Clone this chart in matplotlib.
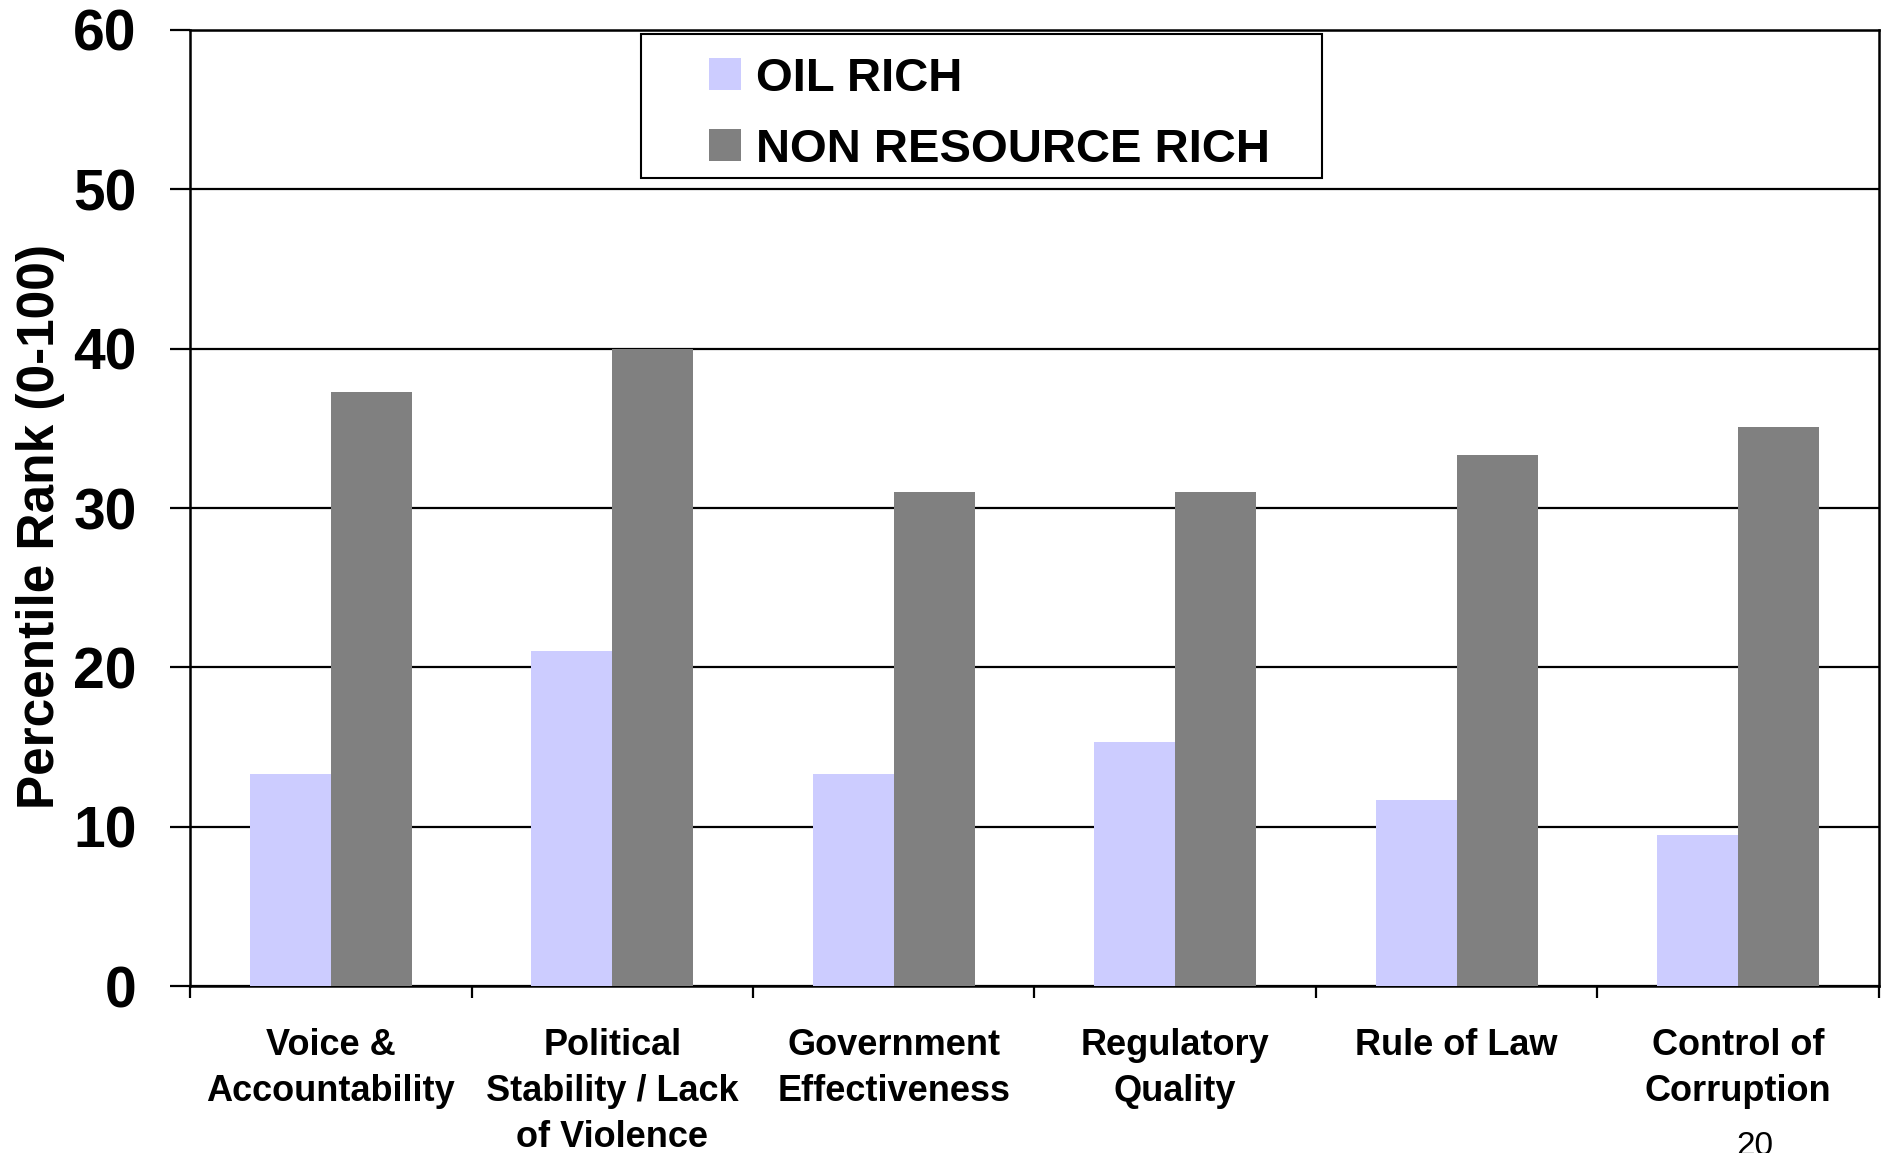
import matplotlib.pyplot as plt
from matplotlib.patches import Rectangle
import numpy as np

categories = ['Voice &\nAccountability', 'Political\nStability / Lack\nof Violence',
              'Government\nEffectiveness', 'Regulatory\nQuality', 'Rule of Law',
              'Control of\nCorruption']
oil_rich = [13.3, 21.0, 13.3, 15.3, 11.7, 9.5]
non_resource_rich = [37.3, 40.0, 31.0, 31.0, 33.3, 35.1]
series_names = ['OIL RICH', 'NON RESOURCE RICH']
y_ticks = [0, 10, 20, 30, 40, 50, 60]

fig = plt.figure(figsize=(18.85, 11.53), dpi=100)
ax = fig.add_axes([0.1008, 0.1448, 0.896, 0.8292])

x = np.arange(len(categories))
w = 0.288
ax.bar(x - w/2, oil_rich, w, color='#CCCCFF', label=series_names[0], zorder=3)
ax.bar(x + w/2, non_resource_rich, w, color='#808080', label=series_names[1], zorder=3)

ax.set_xlim(-0.5, len(categories) - 0.5)
ax.set_ylim(0, 60)

ax.set_yticks(y_ticks)
ax.set_yticklabels([str(v) for v in y_ticks], fontsize=41, fontweight='bold',
                   family='Liberation Sans')
ax.tick_params(axis='y', length=14.5, width=1.6, pad=24, direction='out')
ax.yaxis.grid(True, color='black', linewidth=1.6, zorder=1)

# category boundaries as major ticks, labels on minor ticks at centres
ax.set_xticks(np.arange(len(categories) + 1) - 0.5)
ax.set_xticklabels([])
ax.tick_params(axis='x', which='major', length=8.6, width=1.6, direction='out')
ax.set_xticks(x, minor=True)
ax.set_xticklabels(categories, minor=True, fontsize=26, fontweight='bold',
                   family='Liberation Sans', linespacing=1.42)
ax.tick_params(axis='x', which='minor', length=0, pad=30)

for s in ax.spines.values():
    s.set_linewidth(1.8)
    s.set_color('black')

ax.set_ylabel('Percentile Rank (0-100)', fontsize=37, fontweight='bold',
              family='Liberation Sans')
ax.yaxis.set_label_coords(-0.074, 0.481)

# legend frame drawn separately, entries placed inside it
ax.add_patch(Rectangle((0.267, 0.845), 0.403, 0.151, transform=ax.transAxes,
                       fill=False, edgecolor='black', linewidth=1.5,
                       clip_on=False, zorder=5))
ax.legend(loc='upper left', bbox_to_anchor=(0.307, 0.972), frameon=False,
          borderpad=0, borderaxespad=0, handlelength=0.68, handleheight=0.68,
          handletextpad=0.32, labelspacing=0.57,
          prop={'family': 'Liberation Sans', 'weight': 'bold', 'size': 34})

fig.text(0.931, 0.019, '20', fontsize=24, family='Liberation Sans',
         ha='center', va='top')

plt.savefig('out.png', dpi=100)
